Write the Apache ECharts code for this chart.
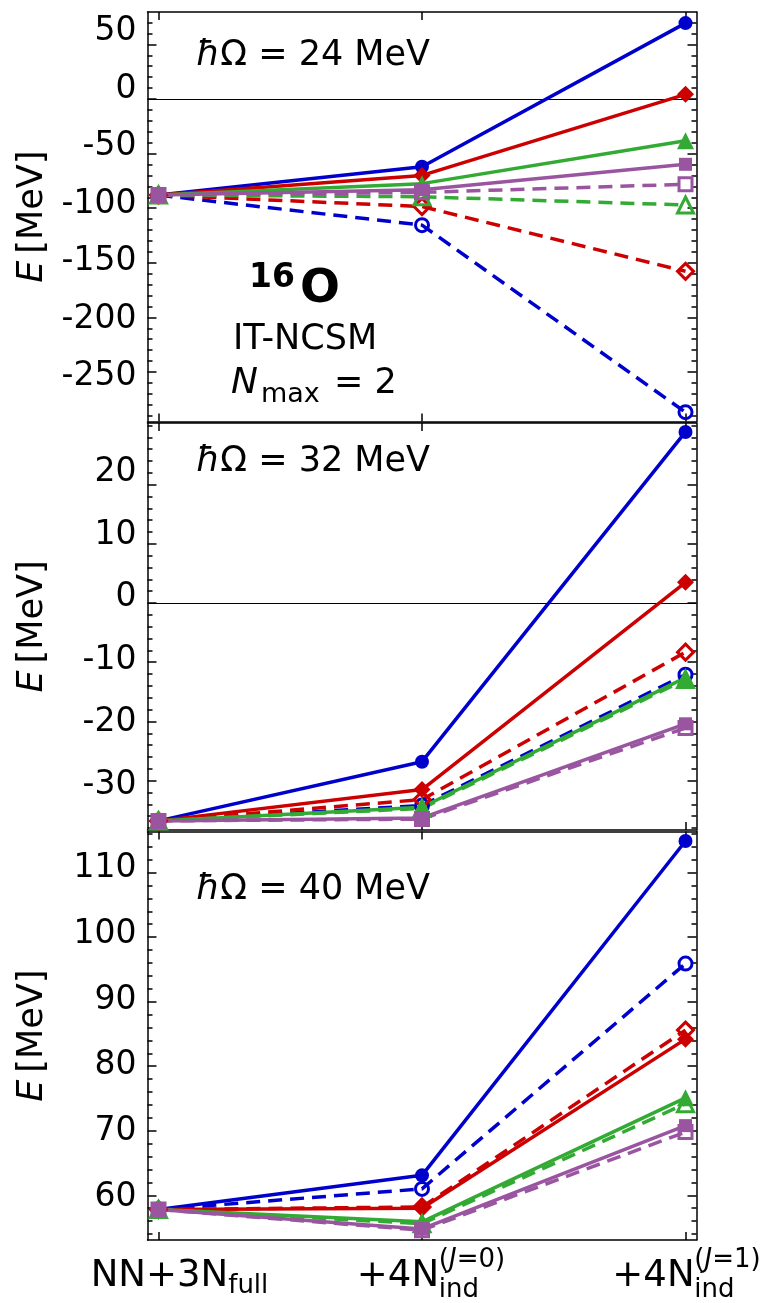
<!DOCTYPE html>
<html><head><meta charset="utf-8">
<script src="https://cdn.jsdelivr.net/npm/echarts@6/dist/echarts.min.js"></script>
<style>html,body{margin:0;padding:0;background:#fff}#c{width:765px;height:1303px}</style>
</head><body><div id="c"></div>
<script>
// ---------- data ----------
const categories = ['NN+3N_full', '+4N_ind^(J=0)', '+4N_ind^(J=1)'];
const xTickMain = ['NN+3N', '+4N', '+4N'];
const xTickSub = ['full', 'ind', 'ind'];
const xTickSup = ['', '(J=0)', '(J=1)'];
const hwValues = ['24', '32', '40'];

const ticks24 = [50, 0, -50, -100, -150, -200, -250];
const ticks32 = [20, 10, 0, -10, -20, -30];
const ticks40 = [110, 100, 90, 80, 70, 60];

// hbar Omega = 24 MeV
const hw24_blueSolid    = [-88, -62, 69.5];
const hw24_blueDashed   = [-88, -115.5, -286.8];
const hw24_redSolid     = [-88, -70, 4.3];
const hw24_redDashed    = [-88, -98.5, -157.8];
const hw24_greenSolid   = [-88, -77.5, -38.2];
const hw24_greenDashed  = [-88, -89.5, -97.1];
const hw24_purpleSolid  = [-88, -83, -59.8];
const hw24_purpleDashed = [-88, -85.5, -78.1];

// hbar Omega = 32 MeV
const hw32_blueSolid    = [-36.8, -26.8, 28.9];
const hw32_blueDashed   = [-36.8, -34.2, -12.1];
const hw32_redSolid     = [-36.8, -31.5, 3.5];
const hw32_redDashed    = [-36.8, -33.2, -8.3];
const hw32_greenSolid   = [-36.8, -34.5, -12.6];
const hw32_greenDashed  = [-36.8, -34.7, -12.9];
const hw32_purpleSolid  = [-36.8, -36.3, -20.4];
const hw32_purpleDashed = [-36.8, -36.5, -21.1];

// hbar Omega = 40 MeV
const hw40_blueSolid    = [57.8, 63.1, 114.9];
const hw40_blueDashed   = [57.8, 61.0, 95.9];
const hw40_redSolid     = [57.8, 58.0, 84.2];
const hw40_redDashed    = [57.8, 58.2, 85.6];
const hw40_greenSolid   = [57.8, 55.9, 75.1];
const hw40_greenDashed  = [57.8, 55.6, 74.2];
const hw40_purpleSolid  = [57.8, 54.8, 70.8];
const hw40_purpleDashed = [57.8, 54.6, 69.8];

// ---------- styles / layout ----------
const FONT = 'DejaVu Sans';
const BLUE = '#0000cc', RED = '#cc0000', GREEN = '#33aa33', PURPLE = '#9a55a0';
const seriesStyles = [
  {color: BLUE,   dashed: false, symbol: 'circle',   size: 14, filled: true},
  {color: BLUE,   dashed: true,  symbol: 'circle',   size: 13, filled: false},
  {color: RED,    dashed: false, symbol: 'diamond',  size: 17, filled: true},
  {color: RED,    dashed: true,  symbol: 'diamond',  size: 16, filled: false},
  {color: GREEN,  dashed: false, symbol: 'triangle', size: 17, filled: true},
  {color: GREEN,  dashed: true,  symbol: 'triangle', size: 16, filled: false},
  {color: PURPLE, dashed: false, symbol: 'rect',     size: 13, filled: true},
  {color: PURPLE, dashed: true,  symbol: 'rect',     size: 13, filled: false}
];

const panels = [
  {top: 12, height: 409.5, dataRange: [-295.33, 79.67], labelRange: [-288.96, 67.13], majors: ticks24, minorStep: 10, zero: true,
   data: [hw24_blueSolid, hw24_blueDashed, hw24_redSolid, hw24_redDashed, hw24_greenSolid, hw24_greenDashed, hw24_purpleSolid, hw24_purpleDashed]},
  {top: 423, height: 407, dataRange: [-38.34, 30.41], labelRange: [-37.2, 27.92], majors: ticks32, minorStep: 2, zero: true,
   data: [hw32_blueSolid, hw32_blueDashed, hw32_redSolid, hw32_redDashed, hw32_greenSolid, hw32_greenDashed, hw32_purpleSolid, hw32_purpleDashed]},
  {top: 831.5, height: 409.5, dataRange: [53.08, 116.37], labelRange: [53.47, 115.70], majors: ticks40, minorStep: 2, zero: false,
   data: [hw40_blueSolid, hw40_blueDashed, hw40_redSolid, hw40_redDashed, hw40_greenSolid, hw40_greenDashed, hw40_purpleSolid, hw40_purpleDashed]}
];

function minorTicks(range, step, majors) {
  const out = [];
  for (let v = Math.ceil(range[0] / step) * step; v <= range[1]; v += step) {
    if (majors.indexOf(v) < 0) out.push(v);
  }
  return out;
}

const axisLineStyle = {color: '#000', width: 1.5};
const X_MIN = -0.0417, X_MAX = 2.0417;
const xShift = [42, 18, 2];

function xLabelFormatter(value) {
  const i = Math.round(value);
  if (i === 0) {
    return '{a0| }\n{h0| }{m|' + xTickMain[0] + '}{sf|' + xTickSub[0] + '}';
  }
  const parts = xTickSup[i].split('J');
  return '{a' + i + '| }{pw| }{sp|' + parts[0] + '}{spi|J}{sp|' + parts[1] + '}\n' +
         '{h' + i + '| }{mw|' + xTickMain[i] + '}{sb|' + xTickSub[i] + '}';
}

const xRich = {
  m:   {fontSize: 37, fontFamily: FONT, color: '#000', height: 37, padding: [9.5, 0, 0, 0], verticalAlign: 'top', align: 'left'},
  mw:  {fontSize: 37, fontFamily: FONT, color: '#000', height: 37, width: 82, padding: [9.5, 0, 0, 0], verticalAlign: 'top', align: 'left'},
  sf:  {fontSize: 26, fontFamily: FONT, color: '#000', height: 26, padding: [25, 0, 0, 0], verticalAlign: 'top', align: 'left'},
  sb:  {fontSize: 26, fontFamily: FONT, color: '#000', height: 26, width: 66, padding: [29, 0, 0, 0], verticalAlign: 'top', align: 'left'},
  pw:  {fontSize: 10, width: 82, height: 1, lineHeight: 1, align: 'left'},
  sp:  {fontSize: 26, fontFamily: FONT, color: '#000', height: 26, lineHeight: 1, verticalAlign: 'top', align: 'left'},
  spi: {fontSize: 26, fontFamily: FONT, color: '#000', fontStyle: 'italic', height: 26, lineHeight: 1, verticalAlign: 'top', align: 'left'}
};
for (let i = 0; i < 3; i++) {
  xRich['a' + i] = {fontSize: 10, width: xShift[i], height: 1, lineHeight: 1, align: 'left'};
  xRich['h' + i] = {fontSize: 10, width: xShift[i], height: 10, align: 'left'};
}

const grids = [], xAxes = [], yAxes = [], series = [];
panels.forEach((p, k) => {
  grids.push({left: 147.5, right: 68.5, top: p.top, height: p.height, containLabel: false});
  const minors = minorTicks(p.dataRange, p.minorStep, p.majors);
  xAxes.push({
    type: 'value', gridIndex: k, position: 'bottom', min: X_MIN, max: X_MAX,
    axisLine: {show: true, onZero: false, lineStyle: axisLineStyle},
    axisTick: {show: true, inside: true, length: 8, customValues: [0, 1, 2], lineStyle: axisLineStyle},
    axisLabel: {show: k === 2, customValues: [0, 1, 2], margin: 7, formatter: xLabelFormatter, rich: xRich,
                fontFamily: FONT, fontSize: 37, color: '#000'},
    splitLine: {show: false}
  });
  xAxes.push({
    type: 'value', gridIndex: k, position: 'top', min: X_MIN, max: X_MAX,
    axisLine: {show: true, onZero: false, lineStyle: axisLineStyle},
    axisTick: {show: true, inside: true, length: 8, customValues: [0, 1, 2], lineStyle: axisLineStyle},
    axisLabel: {show: false}, splitLine: {show: false}
  });
  const base = {type: 'value', gridIndex: k, min: p.dataRange[0], max: p.dataRange[1], splitLine: {show: false}, axisLabel: {show: false}};
  yAxes.push(Object.assign({}, base, {position: 'left',
    axisLine: {show: true, onZero: false, lineStyle: axisLineStyle},
    axisTick: {show: true, inside: true, length: 9, customValues: p.majors, lineStyle: axisLineStyle}}));
  yAxes.push(Object.assign({}, base, {position: 'left',
    axisLine: {show: false, onZero: false},
    axisTick: {show: true, inside: true, length: 5, customValues: minors, lineStyle: axisLineStyle}}));
  yAxes.push(Object.assign({}, base, {position: 'right',
    axisLine: {show: true, onZero: false, lineStyle: axisLineStyle},
    axisTick: {show: true, inside: true, length: 9, customValues: p.majors, lineStyle: axisLineStyle}}));
  yAxes.push(Object.assign({}, base, {position: 'right',
    axisLine: {show: false, onZero: false},
    axisTick: {show: true, inside: true, length: 5, customValues: minors, lineStyle: axisLineStyle}}));
  yAxes.push({
    type: 'value', gridIndex: k, position: 'left', min: p.labelRange[0], max: p.labelRange[1],
    axisLine: {show: false, onZero: false}, axisTick: {show: false}, splitLine: {show: false},
    axisLabel: {show: true, customValues: p.majors, margin: 11, fontFamily: FONT, fontSize: 33, color: '#000'},
    name: '{i|E}\u2009[MeV]', nameLocation: 'middle', nameRotate: 90, nameGap: 97,
    nameTextStyle: {fontFamily: FONT, fontSize: 35, color: '#000',
      rich: {i: {fontFamily: FONT, fontSize: 35, fontStyle: 'italic', color: '#000'}}}
  });

  p.data.forEach((vals, j) => {
    const st = seriesStyles[j];
    const s = {
      type: 'line', xAxisIndex: 2 * k, yAxisIndex: 5 * k,
      data: vals.map((v, i) => [i, v]),
      symbol: st.symbol, symbolSize: st.size, showSymbol: true,
      lineStyle: {color: st.color, width: 3.5, type: st.dashed ? [14, 8] : 'solid'},
      itemStyle: st.filled ? {color: st.color, borderWidth: 0}
                           : {color: 'rgba(255,255,255,0)', borderColor: st.color, borderWidth: 3},
      emphasis: {disabled: true}, animation: false, z: 3, clip: false
    };
    if (j === 0 && p.zero) {
      s.markLine = {silent: true, symbol: ['none', 'none'], label: {show: false},
        lineStyle: {color: '#000', width: 1, type: 'solid'}, data: [{yAxis: 0}], z: 1};
    }
    series.push(s);
  });
});

const hwTextY = [56, 462, 890];
const graphics = hwTextY.map((y, k) => ({
  type: 'text', x: 196, y: y, silent: true,
  style: {text: '{i|ħ}Ω = ' + hwValues[k] + ' MeV', fontFamily: FONT, fontSize: 35, fill: '#000',
          verticalAlign: 'middle', align: 'left',
          rich: {i: {fontFamily: FONT, fontSize: 35, fontStyle: 'italic', fill: '#000'}}}
}));
graphics.push(
  {type: 'text', x: 249, y: 278, silent: true, style: {text: '16', fontFamily: FONT, fontSize: 33, fontWeight: 'bold', fill: '#000', verticalAlign: 'middle'}},
  {type: 'text', x: 300, y: 290, silent: true, style: {text: 'O', fontFamily: FONT, fontSize: 47, fontWeight: 'bold', fill: '#000', verticalAlign: 'middle'}},
  {type: 'text', x: 233, y: 340, silent: true, style: {text: 'IT-NCSM', fontFamily: FONT, fontSize: 35, fill: '#000', verticalAlign: 'middle'}},
  {type: 'text', x: 231, y: 383.5, silent: true, style: {text: 'N', fontFamily: FONT, fontSize: 36, fontStyle: 'italic', fill: '#000', verticalAlign: 'middle'}},
  {type: 'text', x: 261, y: 395, silent: true, style: {text: 'max', fontFamily: FONT, fontSize: 27, fill: '#000', verticalAlign: 'middle'}},
  {type: 'text', x: 334, y: 383.5, silent: true, style: {text: '= 2', fontFamily: FONT, fontSize: 35, fill: '#000', verticalAlign: 'middle'}}
);

const chart = echarts.init(document.getElementById('c'), null, {renderer: 'canvas', width: 765, height: 1303});
chart.setOption({
  backgroundColor: '#fff',
  animation: false,
  grid: grids, xAxis: xAxes, yAxis: yAxes, series: series,
  graphic: graphics
});
</script>
</body></html>
